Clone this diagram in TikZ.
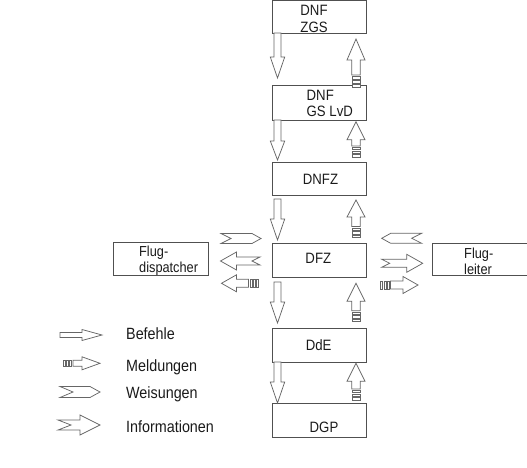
\documentclass[tikz,border=0pt]{standalone}
\usepackage{fontspec}
\setmainfont{Liberation Sans}[FakeStretch=0.88]
\definecolor{boxcol}{HTML}{505050}
\definecolor{arrcol}{HTML}{666666}
\definecolor{txtcol}{HTML}{1A1A1A}
\tikzset{
  box/.style={draw=boxcol, line width=0.9pt, inner sep=0pt, anchor=north west},
  arr/.style={draw=arrcol, line width=0.75pt, fill=white, line join=miter},
  boxtext/.style={text=txtcol, font=\fontsize{15}{16.5}\selectfont, inner sep=0pt},
  sidetext/.style={text=txtcol, font=\fontsize{14.5}{15.5}\selectfont, inner sep=0pt, align=left, anchor=west},
  legtext/.style={text=txtcol, font=\fontsize{16.3}{18}\selectfont, inner sep=0pt, anchor=base west}
}
% x y rot L s H h
\newcommand\befehlarrow[7]{%
  \draw[arr,shift={(#1,#2)},rotate=#3] (0,-#5) -- ({#4-#7},-#5) -- ({#4-#7},-#6) -- (#4,0) -- ({#4-#7},#6) -- ({#4-#7},#5) -- (0,#5) -- cycle;}
% x y rot L s H h S
\newcommand\meldarrow[8]{%
  \begin{scope}[shift={(#1,#2)},rotate=#3]
  \draw[arr] (#8,-#5) -- ({#4-#7},-#5) -- ({#4-#7},-#6) -- (#4,0) -- ({#4-#7},#6) -- ({#4-#7},#5) -- (#8,#5) -- cycle;
  \foreach \k in {0,1,2}{
    \draw[arr,line width=0.6pt] ({#8/3*\k},-#5) rectangle ({#8/3*\k+#8/3-1.3},#5);}
  \end{scope}}
% x y rot L H t n
\newcommand\weisarrow[7]{%
  \draw[arr,shift={(#1,#2)},rotate=#3] (0,-#5) -- ({#4-#6},-#5) -- (#4,0) -- ({#4-#6},#5) -- (0,#5) -- (#7,0) -- cycle;}
% x y rot L s H h n
\newcommand\infoarrow[8]{%
  \draw[arr,shift={(#1,#2)},rotate=#3] (0,-#5) -- ({#4-#7},-#5) -- ({#4-#7},-#6) -- (#4,0) -- ({#4-#7},#6) -- ({#4-#7},#5) -- (0,#5) -- (#8,0) -- cycle;}
\begin{document}
\begin{tikzpicture}[x=1pt,y=-1pt]
\useasboundingbox (0,0) rectangle (527,468);
% main boxes
\node[box, minimum width=94.3pt, minimum height=32.5pt] (b1) at (271.7,0.5) {};
\node[box, minimum width=94.3pt, minimum height=35pt] (b2) at (271.7,85) {};
\node[box, minimum width=94.3pt, minimum height=33.3pt] (b3) at (271.7,161.7) {};
\node[box, minimum width=94.3pt, minimum height=34pt] (b4) at (271.7,243) {};
\node[box, minimum width=94.3pt, minimum height=34pt] (b5) at (271.7,327.7) {};
\node[box, minimum width=94.3pt, minimum height=34pt] (b6) at (271.7,403) {};
% side boxes
\node[box, minimum width=94.4pt, minimum height=33.3pt] (fd) at (113.3,241.7) {};
\node[box, minimum width=94.8pt, minimum height=32pt] (fl) at (431.7,243) {};
% texts
\node[boxtext, align=center] (t1) at (314,18.7) {DNF\\ZGS};
\node[boxtext, align=left, anchor=west] (t2) at (306.5,103.5) {DNF\\GS LvD};
\node[boxtext] (t3) at (320.5,179.5) {DNFZ};
\node[boxtext] (t4) at (318.3,258.7) {DFZ};
\node[boxtext] (t5) at (318.7,345.5) {DdE};
\node[boxtext] (t6) at (324,427) {DGP};
\node[sidetext] (tfd) at (139,260.5) {Flug-\\dispatcher};
\node[sidetext] (tfl) at (464,261.5) {Flug-\\leiter};
% down arrows (Befehle)
\befehlarrow{277.5}{33}{-90}{45}{3.6}{7.2}{21}
\befehlarrow{277.5}{120}{-90}{40}{3.6}{7.2}{19}
\befehlarrow{277.5}{199}{-90}{41}{3.6}{7.2}{21}
\befehlarrow{277.5}{282}{-90}{41}{3.6}{7.2}{21}
\befehlarrow{277.5}{362}{-90}{41}{3.6}{7.2}{21}
% up arrows (Meldungen)
\meldarrow{356}{87}{90}{48}{4.2}{9}{21}{12}
\meldarrow{356}{157}{90}{35.3}{4.2}{9}{18}{11}
\meldarrow{356}{237.5}{90}{37.5}{4.2}{9}{17}{11}
\meldarrow{356}{321.7}{90}{38.4}{4.2}{9}{18}{11}
\meldarrow{356}{400}{90}{36.7}{4.2}{9}{18}{11}
% left side arrows
\weisarrow{221}{238.5}{0}{40}{5}{9}{10}
\infoarrow{260}{261}{180}{39.5}{4}{9}{16}{8}
\meldarrow{258.5}{283.3}{180}{37}{4}{8.5}{15}{10}
% right side arrows
\weisarrow{421.7}{238.3}{180}{40}{5}{9}{10}
\infoarrow{381.7}{263.3}{0}{41}{4}{9}{16}{8}
\meldarrow{380.5}{285}{0}{37.5}{4}{8.5}{15}{10}
% legend
\befehlarrow{60}{335}{0}{42}{2.5}{5.5}{20}
\meldarrow{63}{363.3}{0}{37}{3}{6.5}{18}{10}
\weisarrow{60}{392}{0}{40}{5.5}{10}{13}
\infoarrow{58}{425}{0}{42}{5}{10}{20}{13}
\node[legtext] (l1) at (126,339.5) {Befehle};
\node[legtext] (l2) at (126,371.5) {Meldungen};
\node[legtext] (l3) at (126,398) {Weisungen};
\node[legtext] (l4) at (126,432) {Informationen};
\end{tikzpicture}
\end{document}
